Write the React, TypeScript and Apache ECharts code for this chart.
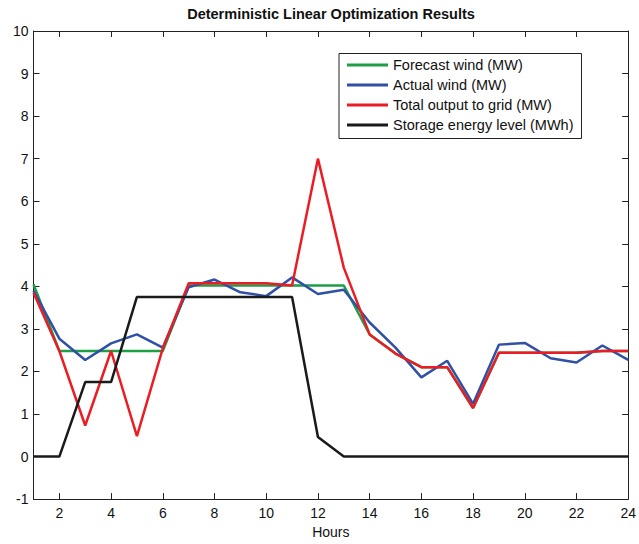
import React, { useEffect, useRef } from "react";
import * as echarts from "echarts";

const hours = [1, 2, 3, 4, 5, 6, 7, 8, 9, 10, 11, 12, 13, 14, 15, 16, 17, 18, 19, 20, 21, 22, 23, 24];
const forecastWind = [4.05, 2.48, 2.48, 2.48, 2.48, 2.48, 4.02, 4.02, 4.02, 4.02, 4.02, 4.02, 4.02, 2.87, 2.42, 2.1, 2.1, 1.14, 2.44, 2.44, 2.44, 2.44, 2.48, 2.48];
const actualWind = [3.9, 2.77, 2.27, 2.66, 2.87, 2.56, 3.98, 4.16, 3.86, 3.77, 4.21, 3.82, 3.92, 3.15, 2.56, 1.86, 2.25, 1.24, 2.63, 2.67, 2.31, 2.21, 2.61, 2.27];
const totalOutput = [3.85, 2.48, 0.73, 2.48, 0.48, 2.54, 4.07, 4.07, 4.07, 4.07, 4.02, 7.0, 4.44, 2.87, 2.42, 2.1, 2.1, 1.14, 2.44, 2.44, 2.44, 2.44, 2.48, 2.48];
const storageLevel = [0, 0, 1.75, 1.75, 3.75, 3.75, 3.75, 3.75, 3.75, 3.75, 3.75, 0.46, 0, 0, 0, 0, 0, 0, 0, 0, 0, 0, 0, 0];
const xTicks = [2, 4, 6, 8, 10, 12, 14, 16, 18, 20, 22, 24];
const seriesNames = ["Forecast wind (MW)", "Actual wind (MW)", "Total output to grid (MW)", "Storage energy level (MWh)"];
const seriesColors = ["#1f9e45", "#3050a6", "#ec1c24", "#1a1a1a"];

const FONT = "'Liberation Sans', Arial, Helvetica, sans-serif";

export default function App() {
  const ref = useRef<HTMLDivElement>(null);
  useEffect(() => {
    if (!ref.current) return;
    const chart = echarts.init(ref.current, null, { renderer: "svg" });
    const pair = (vals: number[]) => hours.map((h, i) => [h, vals[i]]);
    const allVals = [forecastWind, actualWind, totalOutput, storageLevel];
    const axisCommon = {
      axisLine: { show: true, onZero: false, lineStyle: { color: "#222", width: 1 } },
      splitLine: { show: false },
    };
    chart.setOption({
      animation: false,
      backgroundColor: "#fff",
      textStyle: { fontFamily: FONT },
      title: {
        text: "Deterministic Linear Optimization Results",
        left: 331,
        textAlign: "center",
        top: 6,
        padding: 0,
        textStyle: { fontSize: 14.5, fontWeight: "bold", color: "#111", fontFamily: FONT },
      },
      grid: { left: 33.5, right: 8.5, top: 31, bottom: 43, containLabel: false },
      legend: {
        orient: "vertical",
        left: 339,
        top: 53.5,
        padding: [4, 8, 6, 8],
        itemGap: 5,
        itemWidth: 41,
        itemHeight: 3,
        icon: "rect",
        borderColor: "#222",
        borderWidth: 1,
        backgroundColor: "#fff",
        data: seriesNames,
        textStyle: { fontSize: 14.5, color: "#111", fontFamily: FONT, lineHeight: 15 },
      },
      xAxis: [
        {
          ...axisCommon,
          type: "value",
          min: 1,
          max: 24,
          position: "bottom",
          name: "Hours",
          nameLocation: "middle",
          nameGap: 24,
          nameTextStyle: { fontSize: 14, color: "#111", fontFamily: FONT },
          axisTick: { show: true, inside: true, length: 6, customValues: xTicks, lineStyle: { color: "#222" } },
          axisLabel: { show: true, customValues: xTicks, fontSize: 14, color: "#111", margin: 7, fontFamily: FONT },
        },
        {
          ...axisCommon,
          type: "value",
          min: 1,
          max: 24,
          position: "top",
          axisTick: { show: true, inside: true, length: 6, customValues: xTicks, lineStyle: { color: "#222" } },
          axisLabel: { show: false },
        },
      ],
      yAxis: [
        {
          ...axisCommon,
          type: "value",
          min: -1,
          max: 10,
          interval: 1,
          position: "left",
          axisTick: { show: true, inside: true, length: 6, lineStyle: { color: "#222" } },
          axisLabel: { show: true, fontSize: 14, color: "#111", margin: 5, fontFamily: FONT },
        },
        {
          ...axisCommon,
          type: "value",
          min: -1,
          max: 10,
          interval: 1,
          position: "right",
          axisTick: { show: true, inside: true, length: 6, lineStyle: { color: "#222" } },
          axisLabel: { show: false },
        },
      ],
      series: seriesNames.map((name, i) => ({
        name,
        type: "line",
        data: pair(allVals[i]),
        xAxisIndex: 0,
        yAxisIndex: 0,
        showSymbol: false,
        symbol: "none",
        color: seriesColors[i],
        lineStyle: { width: 2.5, color: seriesColors[i] },
        z: 2 + i,
      })),
    });
    return () => chart.dispose();
  }, []);
  return (
    <div
      ref={ref}
      style={{ position: "fixed", left: 0, top: 0, width: 639, height: 544, background: "#fff" }}
    />
  );
}
